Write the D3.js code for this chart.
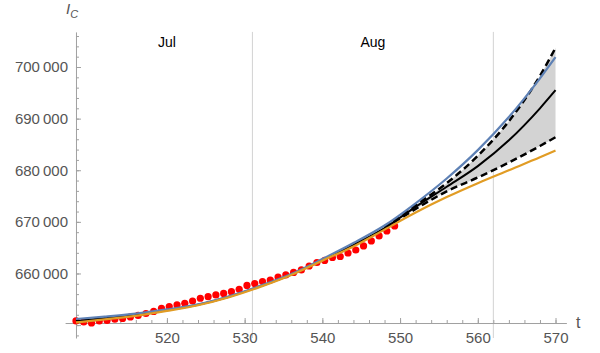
<!DOCTYPE html>
<html lang="en">
<head>
    <meta charset="UTF-8">
    <title>I_C vs t</title>
    <style>
        body, html {
            margin: 0;
            padding: 0;
            background: #fff;
            overflow: hidden;
        }
        svg {
            display: block;
            font-family: "Liberation Sans", Arial, sans-serif;
        }
        .axis path, .axis line { stroke: #a0a0a0; }
        .axis text { fill: #555; font-size: 15px; }
    </style>
</head>
<body>
    <script src="https://d3js.org/d3.v7.min.js"></script>
    <script>
        // observed points (red)
        var obsT = [508.3, 509.3, 510.3, 511.3, 512.3, 513.3, 514.3, 515.3, 516.3, 517.3,
                    518.3, 519.3, 520.3, 521.3, 522.3, 523.3, 524.3, 525.3, 526.3, 527.3,
                    528.3, 529.3, 530.3, 531.3, 532.3, 533.3, 534.3, 535.3, 536.3, 537.3,
                    538.3, 539.3, 540.3, 541.3, 542.3, 543.3, 544.3, 545.3, 546.3, 547.3,
                    548.3, 549.3];
        var obsValues = [650800, 650610, 650410, 650800, 650900, 651130, 651280, 651580, 651870, 652250,
                         652640, 653260, 653570, 653900, 654230, 654670, 655200, 655510, 655840, 656130,
                         656480, 656940, 657680, 658060, 658450, 658740, 659320, 659710, 660200, 660680,
                         661450, 662130, 662520, 663100, 663290, 663970, 664550, 665330, 666300, 667270,
                         668230, 669200];

        // fitted curves
        var curveT = [508.3, 512, 516, 520, 524, 528, 532, 536, 540, 544, 548, 552, 556, 560, 564, 568, 570];
        var meanValues = [650800, 651380, 651970, 652880, 653940, 655500, 657520, 659800, 662650, 665550,
                          668800, 672900, 676800, 680800, 685800, 692000, 695500];
        var blueValues = [651190, 651640, 652220, 653030, 654040, 655600, 657600, 659900, 662800, 665900,
                          669300, 673600, 678400, 683900, 690300, 697800, 701900];
        var orangeValues = [650510, 651100, 651800, 652740, 653840, 655400, 657400, 659710, 662480, 665230,
                            668500, 671800, 674800, 677500, 680000, 682500, 683800];

        // prediction band
        var bandT = [548, 552, 556, 560, 564, 568, 570];
        var upperValues = [668900, 673200, 677500, 682800, 689500, 698300, 703700];
        var lowerValues = [668700, 672500, 675900, 678600, 681500, 684700, 686400];

        // month boundaries and labels
        var monthLines = [531, 562];
        var monthNames = ["Jul", "Aug"];
        var monthLabelT = [520, 546.5];

        var xTickLabels = [520, 530, 540, 550, 560, 570];
        var yTickLabels = [660000, 670000, 680000, 690000, 700000];

        var width = 600;
        var height = 353;

        var svg = d3.select("body")
            .append("svg")
            .attr("width", width)
            .attr("height", height);

        var x = d3.scaleLinear().domain([506.9, 571.4]).range([65.1, 566.4]);
        var y = d3.scaleLinear().domain([647500, 706800]).range([338, 31.9]);

        var x0 = x(508.3);
        var y0 = y(650400);

        // month grid lines
        svg.selectAll(".month-line")
            .data(monthLines)
            .enter()
            .append("line")
            .attr("x1", d => x(d)).attr("x2", d => x(d))
            .attr("y1", y.range()[1]).attr("y2", y.range()[0])
            .attr("stroke", "#d2d2d2")
            .attr("stroke-width", 1);

        svg.selectAll(".month-label")
            .data(monthNames)
            .enter()
            .append("text")
            .attr("x", (d, i) => x(monthLabelT[i]))
            .attr("y", 47)
            .attr("text-anchor", "middle")
            .attr("font-size", 14)
            .attr("fill", "#000")
            .text(d => d);

        // band
        var band = bandT.map((t, i) => ({t: t, lo: lowerValues[i], hi: upperValues[i]}));
        svg.append("path")
            .datum(band)
            .attr("fill", "#d3d3d3")
            .attr("d", d3.area()
                .curve(d3.curveMonotoneX)
                .x(d => x(d.t))
                .y0(d => y(d.lo))
                .y1(d => y(d.hi)));

        // axes
        var xAxis = svg.append("g")
            .attr("class", "axis")
            .attr("transform", "translate(0," + y0 + ")")
            .call(d3.axisBottom(x)
                .tickValues(x.ticks(6))
                .tickSizeInner(-5)
                .tickSizeOuter(0)
                .tickPadding(9)
                .tickFormat(d => xTickLabels.indexOf(d) >= 0 ? d : ""));
        xAxis.append("g")
            .call(d3.axisBottom(x)
                .tickValues(x.ticks(30))
                .tickSizeInner(-3)
                .tickSizeOuter(0)
                .tickFormat(""))
            .select(".domain").remove();
        xAxis.selectAll("text").attr("font-size", null).attr("font-family", null);

        var fmt = d3.format(",");
        var yAxis = svg.append("g")
            .attr("class", "axis")
            .attr("transform", "translate(" + x0 + ",0)")
            .call(d3.axisLeft(y)
                .tickValues(y.ticks(6))
                .tickSizeInner(-5)
                .tickSizeOuter(0)
                .tickPadding(8)
                .tickFormat(d => yTickLabels.indexOf(d) >= 0 ? fmt(d).replace(",", "\u2009") : ""));
        yAxis.append("g")
            .call(d3.axisLeft(y)
                .tickValues(y.ticks(30))
                .tickSizeInner(-3)
                .tickSizeOuter(0)
                .tickFormat(""))
            .select(".domain").remove();
        yAxis.selectAll("text").attr("font-size", null).attr("font-family", null);

        // axis titles
        var ic = svg.append("text")
            .attr("x", 66)
            .attr("y", 14)
            .attr("fill", "#555")
            .attr("font-style", "italic")
            .attr("font-size", 15);
        ic.append("tspan").text("I");
        ic.append("tspan").attr("dy", 4).attr("font-size", 11).text("C");

        svg.append("text")
            .attr("x", 576)
            .attr("y", 328)
            .attr("fill", "#555")
            .attr("font-size", 16)
            .text("t");

        // observed points
        svg.selectAll(".obs")
            .data(obsT)
            .enter()
            .append("circle")
            .attr("cx", d => x(d))
            .attr("cy", (d, i) => y(obsValues[i]))
            .attr("r", 3.6)
            .attr("fill", "#ff0000");

        var line = d3.line()
            .curve(d3.curveMonotoneX)
            .x(d => x(d[0]))
            .y(d => y(d[1]));

        function series(ts, vs) {
            return ts.map((t, i) => [t, vs[i]]);
        }

        svg.append("path")
            .datum(series(curveT, meanValues))
            .attr("fill", "none")
            .attr("stroke", "#000")
            .attr("stroke-width", 2)
            .attr("d", line);

        [upperValues, lowerValues].forEach(function(vals) {
            svg.append("path")
                .datum(series(bandT, vals))
                .attr("fill", "none")
                .attr("stroke", "#000")
                .attr("stroke-width", 2.5)
                .attr("stroke-dasharray", "7,4")
                .attr("d", line);
        });

        svg.append("path")
            .datum(series(curveT, blueValues))
            .attr("fill", "none")
            .attr("stroke", "#5e81b5")
            .attr("stroke-width", 2.2)
            .attr("d", line);

        svg.append("path")
            .datum(series(curveT, orangeValues))
            .attr("fill", "none")
            .attr("stroke", "#e19c24")
            .attr("stroke-width", 2.2)
            .attr("d", line);
    </script>
</body>
</html>
